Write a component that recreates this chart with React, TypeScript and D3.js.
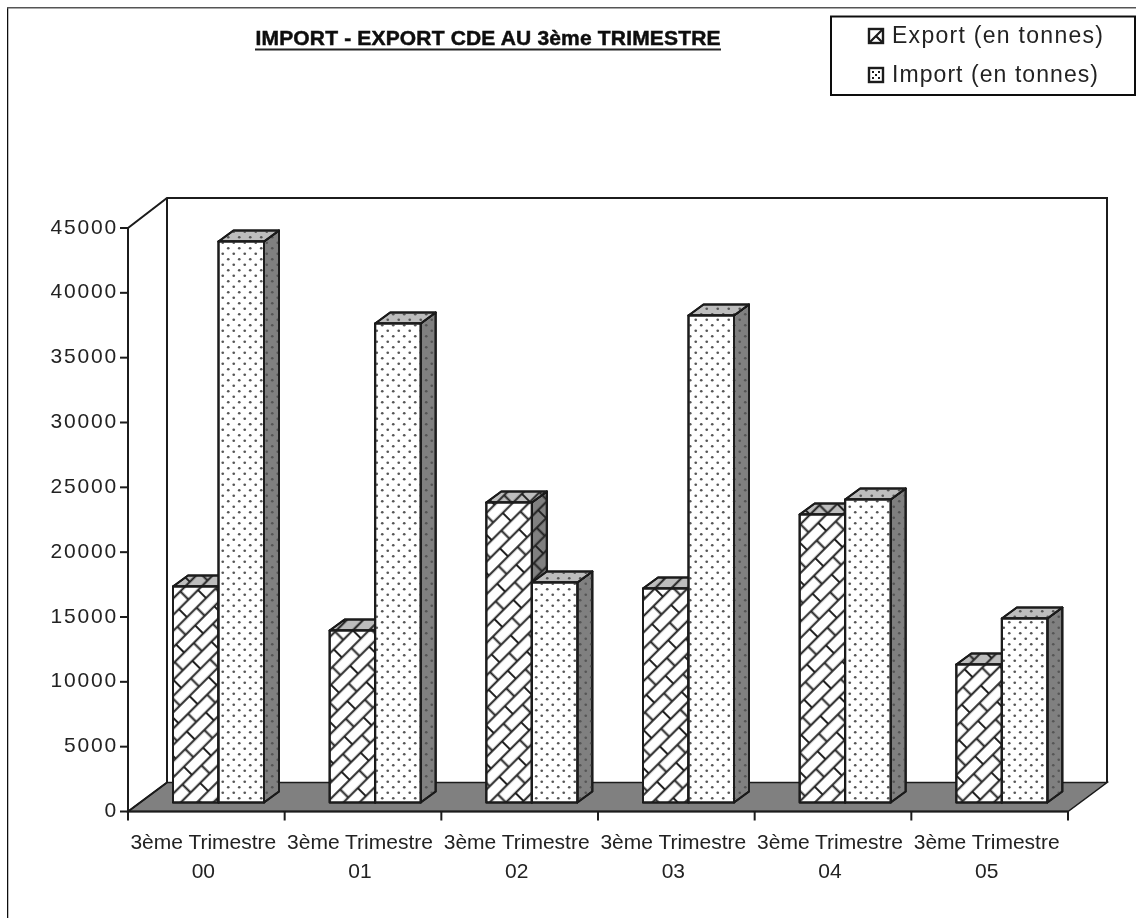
import React from 'react';
import * as d3 from 'd3';

const categories = ['00', '01', '02', '03', '04', '05'];
const exportValues = [16660, 13260, 23140, 16500, 22210, 10640];
const importValues = [43260, 36940, 16970, 37560, 23370, 14190];
const yTicks = [0, 5000, 10000, 15000, 20000, 25000, 30000, 35000, 40000, 45000];
const seriesNames = ['Export (en tonnes)', 'Import (en tonnes)'];
const legendTextX = [892, 892];
const legendTextLen = [211, 206];

const font = '"Liberation Sans", Arial, sans-serif';
const ink = '#1a1a1a';

// plot box, front plane
const left = 128;
const right = 1068;
const bottom = 811.5;
const top = 228;
// wall depth
const wallDx = 39;
const wallDy = 29;
// bars sit a little inside the floor
const barDx = 12;
const barDy = 9;
const sideDx = 15;
const sideDy = 11;

const x0 = d3.scaleBand<string>().domain(categories).range([left, right]);
const x1 = d3.scaleBand<string>().domain(['export', 'import']).range([33, 124]);
const y = d3.scaleLinear().domain([0, 45000]).range([bottom, top]);

const poly = (pts: number[][]) => d3.line()(pts as [number, number][]) + 'Z';

const Bar = ({ cat, series, value }: { cat: string; series: 'export' | 'import'; value: number }) => {
  const xa = (x0(cat) || 0) + (x1(series) || 0) + barDx;
  const xb = xa + x1.bandwidth();
  const yt = y(value) - barDy;
  const yb = y(0) - barDy;
  const pat = series === 'export' ? 'url(#brick)' : 'url(#dots)';
  const side = poly([[xb, yt], [xb + sideDx, yt - sideDy], [xb + sideDx, yb - sideDy], [xb, yb]]);
  const cap = poly([[xa, yt], [xa + sideDx, yt - sideDy], [xb + sideDx, yt - sideDy], [xb, yt]]);
  return (
    <g stroke={ink} strokeWidth={2} strokeLinejoin="round">
      <path d={side} fill="#808080" />
      <path d={side} fill={pat} />
      <path d={cap} fill="#bdbdbd" />
      <path d={cap} fill={pat} />
      <rect x={xa} y={yt} width={xb - xa} height={yb - yt} fill="#fff" />
      <rect x={xa} y={yt} width={xb - xa} height={yb - yt} fill={pat} />
    </g>
  );
};

export default function App() {
  return (
    <svg width={1136} height={918} style={{ position: 'absolute', left: 0, top: 0, background: '#fff' }} fontFamily={font}>
      <defs>
        <pattern id="brick" width={27} height={23} patternUnits="userSpaceOnUse" patternTransform="translate(172,803) rotate(-45)">
          <path d="M0,5.75 H27 M0,17.25 H27 M7,5.75 V17.25 M20.5,17.25 V23 M20.5,0 V5.75" stroke="#222" strokeWidth={2} fill="none" />
        </pattern>
        <pattern id="dots" width={11} height={11} patternUnits="userSpaceOnUse" patternTransform="translate(220,240)">
          <circle cx={2.75} cy={2.75} r={1.35} fill="#555" />
          <circle cx={8.25} cy={8.25} r={1.35} fill="#555" />
        </pattern>
        <filter id="soft" x="0" y="0" width="100%" height="100%">
          <feGaussianBlur stdDeviation={0.7} />
        </filter>
      </defs>
      <g filter="url(#soft)">
        {/* page frame, left and top only */}
        <line x1={7} x2={7} y1={7} y2={918} stroke="#111" strokeWidth={2.5} />
        <line x1={7} x2={1136} y1={7.5} y2={7.5} stroke="#555" strokeWidth={2} />

        <text
          x={488}
          y={45}
          textAnchor="middle"
          fontSize={21}
          fontWeight="bold"
          fill="#111"
          stroke="#111"
          strokeWidth={0.5}
          textLength={465}
          lengthAdjust="spacing"
        >
          IMPORT - EXPORT CDE AU 3ème TRIMESTRE
        </text>
        <line x1={255} x2={721} y1={49.5} y2={49.5} stroke="#222" strokeWidth={2} />

        <rect x={831} y={16.5} width={304} height={78.5} fill="#fff" stroke="#111" strokeWidth={2} />
        {seriesNames.map((name, i) => {
          const iy = 29 + i * 39;
          return (
            <g key={name}>
              <rect x={869} y={iy} width={14} height={14} fill="#fff" stroke={ink} strokeWidth={2.4} />
              {i === 0 ? (
                <path d={`M870,${iy + 13} L882,${iy + 1} M876,${iy + 7} L882,${iy + 13}`} stroke={ink} strokeWidth={2.2} />
              ) : (
                <path
                  d={`M872,${iy + 4} h2 M878,${iy + 4} h2 M875,${iy + 7} h2 M872,${iy + 10} h2 M878,${iy + 10} h2`}
                  stroke={ink}
                  strokeWidth={2}
                />
              )}
              <text x={legendTextX[i]} y={43 + i * 39} fontSize={23} fill="#222" textLength={legendTextLen[i]} lengthAdjust="spacing">
                {name}
              </text>
            </g>
          );
        })}

        {/* walls */}
        <path
          d={poly([[left, bottom], [left + wallDx, bottom - wallDy], [right + wallDx, bottom - wallDy], [right, bottom]])}
          fill="#808080"
          stroke={ink}
          strokeWidth={1.5}
        />
        <path
          d={`M${left},${top} L${left + wallDx},${top - wallDy - 1} H${right + wallDx} V${bottom - wallDy} M${left + wallDx},${top - wallDy - 1} V${bottom - wallDy} M${left},${top} V${bottom} L${left + wallDx},${bottom - wallDy}`}
          fill="none"
          stroke={ink}
          strokeWidth={2}
        />

        {/* axes */}
        <line x1={left - 1} x2={right} y1={bottom} y2={bottom} stroke={ink} strokeWidth={2} />
        {yTicks.map((t) => (
          <g key={t}>
            <line x1={left - 8} x2={left} y1={y(t)} y2={y(t)} stroke={ink} strokeWidth={2} />
            <text x={118} y={y(t) + 5.5} textAnchor="end" fontSize={21} fill="#222" letterSpacing={1.8}>
              {t}
            </text>
          </g>
        ))}
        {categories.concat(['']).map((c, i) => {
          const tx = left + i * x0.step();
          return <line key={i} x1={tx} x2={tx} y1={bottom} y2={bottom + 9} stroke={ink} strokeWidth={2} />;
        })}
        {categories.map((c) => {
          const cx = (x0(c) || 0) + x0.bandwidth() / 2 - 3;
          return (
            <text key={c} textAnchor="middle" fontSize={21} fill="#222">
              <tspan x={cx} y={849}>3ème Trimestre</tspan>
              <tspan x={cx} y={878}>{c}</tspan>
            </text>
          );
        })}

        {/* bars */}
        {categories.map((c, i) => (
          <g key={c}>
            <Bar cat={c} series="export" value={exportValues[i]} />
            <Bar cat={c} series="import" value={importValues[i]} />
          </g>
        ))}
      </g>
    </svg>
  );
}
